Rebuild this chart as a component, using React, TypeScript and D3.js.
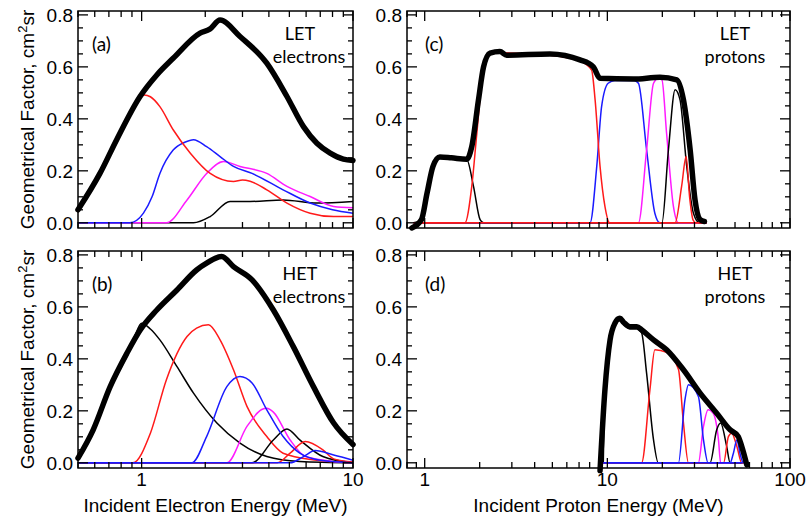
import * as d3 from "d3";

type Pt = [number, number];

const RED = "#ff1a1a";
const BLUE = "#1a1aff";
const MAG = "#ff1aff";
const BLK = "#000000";

// (a) LET electrons
const aTotal: Pt[] = [[0.5, 0.05], [0.635, 0.19], [0.762, 0.32], [0.983, 0.486], [1.18, 0.569], [1.41, 0.633], [1.89, 0.73], [2.1, 0.745], [2.35, 0.78], [2.92, 0.717], [3.91, 0.614], [4.87, 0.486], [5.83, 0.37], [6.75, 0.306], [7.8, 0.268], [9.0, 0.245], [10, 0.24]];
const aRed: Pt[] = [[0.5, 0.045], [0.635, 0.185], [0.76, 0.315], [0.88, 0.42], [0.98, 0.48], [1.03, 0.492], [1.1, 0.485], [1.22, 0.447], [1.41, 0.358], [1.7, 0.268], [2.11, 0.19], [2.72, 0.159], [3.0, 0.165], [3.26, 0.16], [3.91, 0.127], [4.87, 0.076], [6.27, 0.037], [8.1, 0.024], [10, 0.024]];
const aBlue: Pt[] = [[0.5, 0], [0.88, 0], [1.02, 0.037], [1.12, 0.1], [1.22, 0.19], [1.41, 0.28], [1.6, 0.31], [1.76, 0.32], [2.03, 0.293], [2.35, 0.255], [2.72, 0.217], [3.33, 0.19], [4.67, 0.127], [6.27, 0.076], [8, 0.05], [10, 0.037]];
const aMag: Pt[] = [[0.5, 0], [1.31, 0], [1.64, 0.088], [2.03, 0.19], [2.44, 0.236], [2.92, 0.217], [3.91, 0.19], [4.87, 0.14], [6.27, 0.101], [8.1, 0.063], [10, 0.058]];
const aBlack: Pt[] = [[0.5, 0], [1.76, 0], [2.11, 0.024], [2.62, 0.082], [3.26, 0.082], [4.67, 0.088], [6.75, 0.076], [10, 0.082]];

// (b) HET electrons
const bTotal: Pt[] = [[0.5, 0.018], [0.59, 0.127], [0.71, 0.293], [0.85, 0.42], [0.983, 0.51], [1.18, 0.588], [1.47, 0.665], [1.82, 0.742], [2.03, 0.768], [2.39, 0.794], [2.72, 0.755], [3.33, 0.704], [4.2, 0.588], [5.22, 0.447], [6.5, 0.293], [8.1, 0.153], [10, 0.07]];
const bBlack1: Pt[] = [[0.5, 0.015], [0.59, 0.12], [0.71, 0.285], [0.85, 0.41], [0.93, 0.49], [1.0, 0.537], [1.1, 0.515], [1.22, 0.473], [1.47, 0.37], [1.76, 0.268], [2.27, 0.153], [2.92, 0.076], [3.91, 0.024], [5.6, 0.005], [10, 0]];
const bRed1: Pt[] = [[0.5, 0], [0.91, 0], [1.1, 0.114], [1.31, 0.32], [1.64, 0.486], [1.82, 0.518], [2.07, 0.531], [2.35, 0.473], [2.72, 0.358], [3.15, 0.217], [3.91, 0.101], [4.67, 0.037], [6.75, 0.01], [10, 0]];
const bBlue1: Pt[] = [[0.5, 0], [1.73, 0], [2.03, 0.101], [2.53, 0.293], [2.92, 0.332], [3.33, 0.307], [3.91, 0.204], [4.67, 0.101], [5.6, 0.037], [7, 0.01], [10, 0]];
const bMag: Pt[] = [[0.5, 0], [2.53, 0], [3.15, 0.14], [3.7, 0.205], [3.91, 0.21], [4.2, 0.195], [5.04, 0.088], [5.96, 0.024], [8.1, 0.005], [10, 0]];
const bBlack2: Pt[] = [[0.5, 0], [3.33, 0], [4.2, 0.088], [4.87, 0.13], [5.6, 0.088], [7.2, 0.024], [10, 0]];
const bRed2: Pt[] = [[0.5, 0], [4.38, 0], [5.04, 0.037], [5.94, 0.082], [7.2, 0.05], [8.1, 0.015], [10, 0.003]];
const bBlue2: Pt[] = [[0.5, 0], [5.04, 0], [5.83, 0.024], [6.62, 0.047], [8.1, 0.03], [10, 0.01]];

// (c) LET protons
const cTotal: Pt[] = [[0.85, -0.02], [0.96, 0.012], [1.03, 0.114], [1.11, 0.217], [1.21, 0.253], [1.4, 0.25], [1.7, 0.245], [1.81, 0.293], [1.97, 0.473], [2.1, 0.6], [2.28, 0.653], [2.58, 0.659], [2.81, 0.645], [4.85, 0.65], [7.08, 0.627], [8.38, 0.6], [9.12, 0.556], [13.9, 0.553], [19.4, 0.56], [24, 0.55], [26.1, 0.473], [28.4, 0.281], [30.2, 0.088], [32.2, 0.012], [34, 0.005]];
const cBlack1: Pt[] = [[0.87, 0], [0.96, 0.01], [1.03, 0.11], [1.11, 0.21], [1.21, 0.248], [1.4, 0.245], [1.7, 0.243], [1.85, 0.14], [2.01, 0.012], [2.1, 0], [35, 0]];
const cRed1: Pt[] = [[0.87, 0], [1.66, 0], [1.81, 0.14], [1.93, 0.345], [2.1, 0.595], [2.28, 0.648], [2.58, 0.654], [4.85, 0.645], [7.08, 0.622], [8.2, 0.588], [8.57, 0.473], [9.12, 0.217], [9.7, 0.063], [10.3, 0], [35, 0]];
const cBlue1: Pt[] = [[0.87, 0], [8.04, 0], [8.75, 0.217], [9.3, 0.447], [10.1, 0.537], [11, 0.548], [14, 0.548], [14.8, 0.537], [16.4, 0.281], [18.2, 0.037], [19.4, 0], [35, 0]];
const cMag: Pt[] = [[0.87, 0], [14.8, 0], [16.4, 0.28], [17.9, 0.537], [19.0, 0.555], [19.9, 0.55], [21.1, 0.345], [23, 0.063], [24.5, 0], [35, 0]];
const cBlack2: Pt[] = [[0.87, 0], [19.9, 0], [21.6, 0.281], [23.5, 0.512], [25, 0.473], [27.2, 0.217], [29.6, 0.037], [32, 0], [35, 0]];
const cRed2: Pt[] = [[0.87, 0], [23.5, 0], [25.5, 0.14], [27, 0.255], [28.2, 0.1], [29.5, 0.01], [30.5, 0], [33, 0]];

// (d) HET protons
const dTotal: Pt[] = [[9.12, -0.03], [9.7, 0.281], [10.35, 0.473], [11, 0.537], [11.7, 0.556], [12.3, 0.54], [13.3, 0.524], [14.5, 0.524], [15.5, 0.51], [17.9, 0.473], [21.1, 0.435], [26.1, 0.358], [32.2, 0.268], [39.7, 0.191], [47, 0.127], [52.1, 0.101], [54.4, 0.063], [58, -0.008]];
const dBlack1: Pt[] = [[9.5, 0], [9.7, 0.27], [10.35, 0.465], [11, 0.53], [11.7, 0.548], [12.3, 0.532], [13.3, 0.516], [14.5, 0.516], [15.4, 0.5], [16.4, 0.345], [17.9, 0.088], [19, 0], [55, 0]];
const dRed1: Pt[] = [[9.5, 0], [15.4, 0], [17.1, 0.28], [18.2, 0.435], [21.1, 0.425], [24.5, 0.36], [26.1, 0.153], [27.8, 0], [55, 0]];
const dBlue1: Pt[] = [[9.5, 0], [24.5, 0], [26.6, 0.242], [27.8, 0.3], [31.5, 0.255], [33.6, 0.088], [35.6, 0], [55, 0]];
const dMag: Pt[] = [[9.5, 0], [31.5, 0], [33.6, 0.14], [35.6, 0.204], [38, 0.19], [40.6, 0.088], [41.7, 0], [55, 0]];
const dBlack2: Pt[] = [[9.5, 0], [36.5, 0], [39.7, 0.127], [41.7, 0.153], [45, 0.063], [47, 0], [55, 0]];
const dRed2: Pt[] = [[9.5, 0], [43.3, 0], [46, 0.101], [47.9, 0.114], [51.2, 0.063], [54.4, 0], [57, 0]];
const dBlue2: Pt[] = [[9.5, 0], [47, 0], [49, 0.037], [51.2, 0.088], [53.5, 0.03], [55.5, 0], [57, 0]];

const yMajor = [0, 0.2, 0.4, 0.6, 0.8];
const yMinor = d3.range(0, 0.8001, 0.05);
const electronXLabels = [1, 10];
const protonXLabels = [1, 10, 100];

interface Series {
  data: Pt[];
  color: string;
}

interface PanelProps {
  x0: number;
  x1: number;
  y0: number;
  y1: number;
  xDomain: [number, number];
  thin: Series[];
  total: Pt[];
  tag: string;
  tagX: number;
  name1: string;
  name2: string;
  nameX: number;
  name2X: number;
  xLabels?: number[];
}

const tickFont = "'Liberation Sans', Arial, sans-serif";
const boxFont = "Lato, 'Open Sans', sans-serif";

function Panel(p: PanelProps) {
  const x = d3.scaleLog().domain(p.xDomain).range([p.x0, p.x1]);
  const y = d3.scaleLinear().domain([-0.02, 0.815]).range([p.y1, p.y0]);
  const line = d3
    .line<Pt>()
    .x((d) => x(d[0]))
    .y((d) => y(d[1]))
    .curve(d3.curveMonotoneX);

  const lo = Math.floor(Math.log10(p.xDomain[0]));
  const hi = Math.ceil(Math.log10(p.xDomain[1]));
  const xTicks: { v: number; major: boolean }[] = [];
  for (let e = lo; e <= hi; e++) {
    for (let k = 1; k <= 9; k++) {
      const v = k * Math.pow(10, e);
      if (v >= p.xDomain[0] * 0.999 && v <= p.xDomain[1] * 1.001) xTicks.push({ v, major: k === 1 });
    }
  }

  return (
    <g>
      {p.thin.map((s, i) => (
        <path key={i} d={line(s.data)!} fill="none" stroke={s.color} strokeWidth={1.5} strokeLinejoin="round" />
      ))}
      <path d={line(p.total)!} fill="none" stroke={BLK} strokeWidth={5.5} strokeLinejoin="round" strokeLinecap="round" />
      <rect x={p.x0} y={p.y0} width={p.x1 - p.x0} height={p.y1 - p.y0} fill="none" stroke="#000" strokeWidth={1.5} />
      {yMinor.map((v, i) => {
        const major = yMajor.some((m) => Math.abs(m - v) < 1e-6);
        const len = major ? 10 : 5;
        return (
          <g key={"y" + i} stroke="#000" strokeWidth={1.3}>
            <line x1={p.x0} x2={p.x0 + len} y1={y(v)} y2={y(v)} />
            <line x1={p.x1} x2={p.x1 - len} y1={y(v)} y2={y(v)} />
          </g>
        );
      })}
      {xTicks.map((t, i) => {
        const len = t.major ? 10 : 6;
        return (
          <g key={"x" + i} stroke="#000" strokeWidth={1.3}>
            <line x1={x(t.v)} x2={x(t.v)} y1={p.y1} y2={p.y1 - len} />
            <line x1={x(t.v)} x2={x(t.v)} y1={p.y0} y2={p.y0 + len} />
          </g>
        );
      })}
      {yMajor.map((v) => (
        <text key={"yl" + v} x={p.x0 - 5} y={y(v)} dy="0.36em" textAnchor="end" fontSize={19} fontFamily={tickFont}>
          {v.toFixed(1)}
        </text>
      ))}
      {p.xLabels &&
        p.xLabels.map((v) => (
          <text key={"xl" + v} x={x(v)} y={p.y1 + 18} textAnchor="middle" fontSize={19} fontFamily={tickFont}>
            {v}
          </text>
        ))}
      <text x={p.tagX} y={p.y0 + 40} fontSize={19} fontFamily={boxFont}>
        {p.tag}
      </text>
      <text x={p.nameX} y={p.y0 + 29} textAnchor="middle" fontSize={18} fontFamily={boxFont}>
        {p.name1}
      </text>
      <text x={p.name2X} y={p.y0 + 52} textAnchor="middle" fontSize={18} fontFamily={boxFont}>
        {p.name2}
      </text>
    </g>
  );
}

function YTitle({ cy }: { cy: number }) {
  return (
    <text
      transform={`translate(34,${cy}) rotate(-90)`}
      textAnchor="middle"
      fontSize={19}
      fontFamily={tickFont}
    >
      Geometrical Factor, cm
      <tspan dy={-7} fontSize={13}>2</tspan>
      <tspan dy={7}>sr</tspan>
    </text>
  );
}

export default function App() {
  const L = { x0: 78, x1: 353, xDomain: [0.5, 10] as [number, number] };
  const R = { x0: 407, x1: 790, xDomain: [0.8, 100] as [number, number] };
  const T = { y0: 11, y1: 228 };
  const B = { y0: 251, y1: 468 };
  return (
    <svg width={807} height={523} style={{ position: "absolute", left: 0, top: 0, background: "#fff" }}>
      <Panel
        {...L}
        {...T}
        total={aTotal}
        thin={[
          { data: aBlack, color: BLK },
          { data: aMag, color: MAG },
          { data: aBlue, color: BLUE },
          { data: aRed, color: RED },
        ]}
        tag="(a)"
        tagX={92}
        name1="LET"
        name2="electrons"
        nameX={300}
        name2X={309}
      />
      <Panel
        {...L}
        {...B}
        total={bTotal}
        thin={[
          { data: bBlack1, color: BLK },
          { data: bRed1, color: RED },
          { data: bMag, color: MAG },
          { data: bBlack2, color: BLK },
          { data: bRed2, color: RED },
          { data: bBlue1, color: BLUE },
          { data: bBlue2, color: BLUE },
        ]}
        tag="(b)"
        tagX={92}
        name1="HET"
        name2="electrons"
        nameX={300}
        name2X={309}
        xLabels={electronXLabels}
      />
      <Panel
        {...R}
        {...T}
        total={cTotal}
        thin={[
          { data: cBlack1, color: BLK },
          { data: cBlue1, color: BLUE },
          { data: cMag, color: MAG },
          { data: cBlack2, color: BLK },
          { data: cRed1, color: RED },
          { data: cRed2, color: RED },
        ]}
        tag="(c)"
        tagX={425}
        name1="LET"
        name2="protons"
        nameX={735}
        name2X={735}
      />
      <Panel
        {...R}
        {...B}
        total={dTotal}
        thin={[
          { data: dBlack1, color: BLK },
          { data: dRed1, color: RED },
          { data: dMag, color: MAG },
          { data: dBlack2, color: BLK },
          { data: dRed2, color: RED },
          { data: dBlue1, color: BLUE },
          { data: dBlue2, color: BLUE },
        ]}
        tag="(d)"
        tagX={425}
        name1="HET"
        name2="protons"
        nameX={735}
        name2X={735}
        xLabels={protonXLabels}
      />
      <YTitle cy={119.5} />
      <YTitle cy={359.5} />
      <text x={215.5} y={512} textAnchor="middle" fontSize={19} fontFamily={tickFont}>
        Incident Electron Energy (MeV)
      </text>
      <text x={598.5} y={512} textAnchor="middle" fontSize={19} fontFamily={tickFont}>
        Incident Proton Energy (MeV)
      </text>
    </svg>
  );
}
